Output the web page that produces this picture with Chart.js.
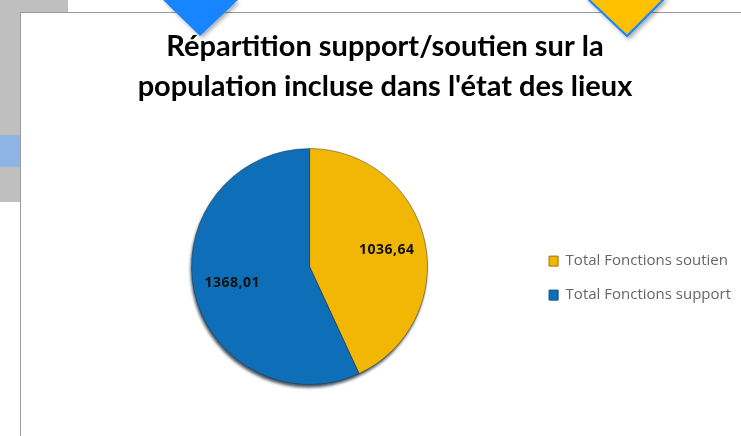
<!DOCTYPE html>
<html>
<head>
<meta charset="utf-8">
<script src="https://cdn.jsdelivr.net/npm/chart.js@4.4.1/dist/chart.umd.min.js"></script>
<style>
    html, body { margin: 0; padding: 0; background: #fff; width: 741px; height: 436px; overflow: hidden; position: relative; }
    .grey { position: absolute; background: #bfbfbf; }
    #frame { position: absolute; left: 20px; top: 12px; width: 730px; height: 430px; border: 1px solid #9a9a9a; background: #fff; }
    #box { position: absolute; left: 21px; top: 13px; width: 720px; height: 423px; }
    svg { position: absolute; left: 0; top: 0; }
</style>
</head>
<body>
<div class="grey" style="left:0;top:0;width:68px;height:12px"></div>
<div class="grey" style="left:0;top:0;width:20px;height:202px"></div>
<div style="position:absolute;left:0;top:135px;width:20px;height:32px;background:#8eb4e3"></div>
<div id="frame"></div>
<div id="box"><canvas id="pieChart"></canvas></div>
<!-- the two arrows sitting on top of the screenshot -->
<svg width="741" height="60">
    <defs>
        <filter id="sh" x="-20%" y="-20%" width="140%" height="160%">
            <feDropShadow dx="2" dy="2" stdDeviation="2" flood-color="#000" flood-opacity="0.35"/>
        </filter>
    </defs>
    <polygon points="163,0 238,0 200,36" fill="#1685ff" filter="url(#sh)"/>
    <polygon points="588,-1 664,-1 627,36" fill="#ffc000" stroke="#1685ff" stroke-width="2" filter="url(#sh)"/>
</svg>
<script>
document.addEventListener('DOMContentLoaded', function() {
    const categories = ['Total Fonctions soutien', 'Total Fonctions support'];
    const values = [1036.64, 1368.01];
    const sliceColors = ['#f2b705', '#0f6eb8'];
    const edgeColors = ['#9c7600', '#0a4a7c'];
    const titleLines = ['Répartition support/soutien sur la', "population incluse dans l'état des lieux"];

    // empty box on the left so the pie sits left of the title centre
    // (display:false keeps it out of the legend's max width sharing)
    const leftSpacer = {
        id: 'leftSpacer',
        beforeInit(chart) {
            Chart.layouts.addBox(chart, {
                position: 'left',
                fullSize: false,
                weight: 0,
                options: { display: false },
                left: 0, top: 0, right: 0, bottom: 0, width: 0, height: 0,
                isHorizontal() { return false; },
                update(maxWidth, maxHeight) {
                    this.width = 60;
                    this.height = maxHeight;
                },
                draw() {}
            });
        }
    };

    // shadow under the pie + value labels inside the slices
    const pieDecor = {
        id: 'pieDecor',
        beforeDatasetsDraw(chart) {
            const arc = chart.getDatasetMeta(0).data[0];
            if (!arc) return;
            const ctx = chart.ctx;
            ctx.save();
            ctx.filter = 'blur(1.5px)';
            ctx.fillStyle = 'rgba(10, 30, 50, 0.75)';
            ctx.beginPath();
            ctx.arc(arc.x - 1, arc.y + 3, arc.outerRadius, 0, Math.PI * 2);
            ctx.fill();
            ctx.restore();
        },
        afterDatasetsDraw(chart) {
            const ctx = chart.ctx;
            ctx.save();
            ctx.font = 'bold 14px "Open Sans"';
            ctx.letterSpacing = '0.5px';
            ctx.fillStyle = '#111';
            ctx.textAlign = 'center';
            ctx.textBaseline = 'middle';
            chart.getDatasetMeta(0).data.forEach(function(arc, i) {
                const mid = (arc.startAngle + arc.endAngle) / 2;
                const r = arc.outerRadius * 0.67;
                const label = values[i].toFixed(2).replace('.', ',');
                ctx.fillText(label, arc.x + Math.cos(mid) * r, arc.y + Math.sin(mid) * r);
            });
            ctx.restore();
        }
    };

    const ctx = document.getElementById('pieChart').getContext('2d');
    new Chart(ctx, {
        type: 'pie',
        data: {
            labels: categories,
            datasets: [{
                data: values,
                backgroundColor: sliceColors,
                borderColor: 'rgba(40, 40, 40, 0.45)',
                borderWidth: 1
            }]
        },
        options: {
            responsive: true,
            maintainAspectRatio: false,
            animation: false,
            layout: {
                padding: { left: 8, right: 0, top: 0, bottom: 51 }
            },
            plugins: {
                title: {
                    display: true,
                    text: titleLines,
                    color: '#000',
                    font: { family: 'Lato', size: 29, weight: 'bold', lineHeight: 1.38 },
                    padding: { top: 14, bottom: 41 }
                },
                legend: {
                    position: 'right',
                    align: 'center',
                    fullSize: false,
                    title: { display: true, text: ' ', font: { size: 1 }, padding: { top: 11, bottom: 11 } },
                    labels: {
                        boxWidth: 9,
                        boxHeight: 10,
                        padding: 19,
                        color: '#111',
                        font: { family: 'Open Sans', size: 15 },
                        generateLabels(chart) {
                            return categories.map(function(name, i) {
                                return {
                                    text: name,
                                    fillStyle: sliceColors[i],
                                    strokeStyle: edgeColors[i],
                                    lineWidth: 1,
                                    index: i
                                };
                            });
                        }
                    }
                },
                tooltip: { enabled: false }
            }
        },
        plugins: [leftSpacer, pieDecor]
    });
});
</script>
</body>
</html>
